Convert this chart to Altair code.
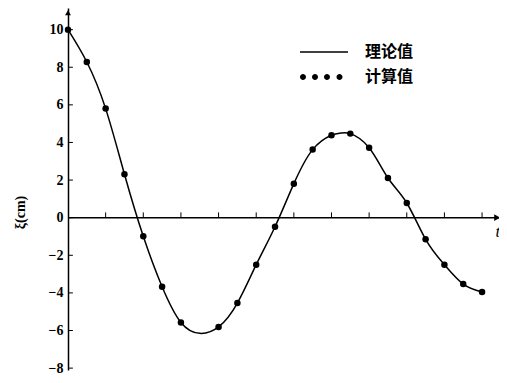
import altair as alt
import pandas as pd

# ---- data ----
t_calc = [0, 0.5, 1, 1.5, 2, 2.5, 3, 4, 4.5, 5, 5.5, 6, 6.5, 7, 7.5, 8, 8.5, 9, 9.5, 10, 10.5, 11]
xi_calc = [10.0, 8.28, 5.80, 2.31, -0.99, -3.67, -5.57, -5.81, -4.54, -2.50, -0.48, 1.81,
           3.62, 4.38, 4.47, 3.72, 2.11, 0.78, -1.15, -2.50, -3.53, -3.95]

t_theory = [0, 0.5, 1, 1.5, 2, 2.5, 3, 3.5, 4, 4.5, 5, 5.5, 6, 6.5, 7, 7.25, 7.5, 8, 8.5,
            9, 9.5, 10, 10.5, 11]
xi_theory = [10.0, 8.28, 5.80, 2.31, -0.99, -3.67, -5.57, -6.15, -5.81, -4.54, -2.50, -0.48,
             1.81, 3.62, 4.38, 4.50, 4.47, 3.72, 2.11, 0.78, -1.15, -2.50, -3.53, -3.95]

y_ticks = [-8, -6, -4, -2, 0, 2, 4, 6, 8, 10]
x_ticks = [1, 2, 3, 4, 5, 6, 7, 8, 9, 10, 11]
series = ["理论值", "计算值"]
y_title = "ξ(cm)"
x_title = "t"

x_domain = [0, 11.45]
y_domain = [-8.1, 11.15]

theory_df = pd.DataFrame({"t": t_theory, "xi": xi_theory})
calc_df = pd.DataFrame({"t": t_calc, "xi": xi_calc})
yt_df = pd.DataFrame({"xi": y_ticks, "t": 0.0, "t2": 0.13})
xt_df = pd.DataFrame({"t": x_ticks, "xi": 0.0, "xi2": 0.28})
xaxis_df = pd.DataFrame({"t": [x_domain[0]], "t2": [x_domain[1]], "xi": [0.0]})
xarrow_df = pd.DataFrame({"t": [x_domain[1] - 0.05], "xi": [0.0]})
yarrow_df = pd.DataFrame({"t": [0.0], "xi": [y_domain[1] - 0.25]})
tlabel_df = pd.DataFrame({"t": [11.36], "xi": [-0.75], "label": [x_title]})
legend_df = pd.DataFrame({"series": series, "t": [1.0, 1.0], "xi": [1.0, 1.0]})

xs = alt.Scale(domain=x_domain, nice=False, zero=False)
ys = alt.Scale(domain=y_domain, nice=False, zero=False)

y_axis = alt.Axis(values=y_ticks, ticks=False, domain=True, domainColor="black",
                  domainWidth=1.5, grid=False, labelFont="Liberation Serif",
                  labelFontSize=14, labelFontWeight="bold", labelColor="black",
                  labelPadding=5, title=y_title, titleFont="Liberation Serif",
                  titleFontSize=14, titleFontWeight="bold", titleColor="#000000",
                  titleAngle=270, titleX=-48, titleY=204, titleAlign="center",
                  titleBaseline="middle")

def X(f):
    return alt.X(f, type="quantitative", scale=xs, axis=None)

def Y(f):
    return alt.Y(f, type="quantitative", scale=ys, axis=y_axis)

line = alt.Chart(theory_df).mark_line(color="black", strokeWidth=1.5,
                                      interpolate="natural").encode(x=X("t"), y=Y("xi"))
pts = alt.Chart(calc_df).mark_circle(color="black", size=42, opacity=1).encode(
    x=X("t"), y=Y("xi"))

x_axis_line = alt.Chart(xaxis_df).mark_rule(color="black", strokeWidth=1.5).encode(
    x=X("t"), x2="t2:Q", y=Y("xi"))
x_tick_marks = alt.Chart(xt_df).mark_rule(color="black", strokeWidth=1).encode(
    x=X("t"), y=Y("xi"), y2="xi2:Q")
y_tick_marks = alt.Chart(yt_df).mark_rule(color="black", strokeWidth=1).encode(
    y=Y("xi"), x=X("t"), x2="t2:Q")

x_arrow = alt.Chart(xarrow_df).mark_point(shape="triangle-right", filled=True,
                                          color="black", size=45, opacity=1).encode(
    x=X("t"), y=Y("xi"))
y_arrow = alt.Chart(yarrow_df).mark_point(shape="triangle-up", filled=True,
                                          color="black", size=35, opacity=1).encode(
    x=X("t"), y=Y("xi"))
t_label = alt.Chart(tlabel_df).mark_text(font="Liberation Serif", fontStyle="italic",
                                         fontSize=17, align="left", baseline="middle",
                                         color="black").encode(
    x=X("t"), y=Y("xi"), text="label:N")

line_path = "M-2.4,-0.07L2.4,-0.07L2.4,0.07L-2.4,0.07Z"
r = 0.3
dots_path = "".join(
    f"M{cx - r},0A{r},{r} 0 1,0 {cx + r},0A{r},{r} 0 1,0 {cx - r},0Z"
    for cx in [-2.1, -0.9, 0.3, 1.55])

legend_layer = alt.Chart(legend_df).mark_point(filled=True, color="black",
                                               opacity=0).encode(
    x=X("t"), y=Y("xi"),
    shape=alt.Shape("series:N",
                    scale=alt.Scale(domain=series, range=[line_path, dots_path]),
                    legend=alt.Legend(title=None, orient="none", legendX=246, legendY=34,
                                      symbolSize=400, symbolFillColor="black",
                                      symbolStrokeWidth=0,
                                      symbolOpacity=1, labelFont="Noto Sans CJK SC",
                                      labelFontSize=16, labelFontWeight="bold",
                                      labelColor="black", labelOffset=31, rowPadding=7,
                                      padding=0)))

chart = alt.layer(x_axis_line, x_tick_marks, y_tick_marks, x_arrow, y_arrow, line, pts,
                  t_label, legend_layer).properties(
    width=431, height=362,
    autosize=alt.AutoSizeParams(type="none"),
    padding={"left": 60, "top": 0, "right": 0, "bottom": 5},
    background="white",
).configure_view(stroke=None)

chart.save("out.html", embed_options={"renderer": "svg", "actions": False})
